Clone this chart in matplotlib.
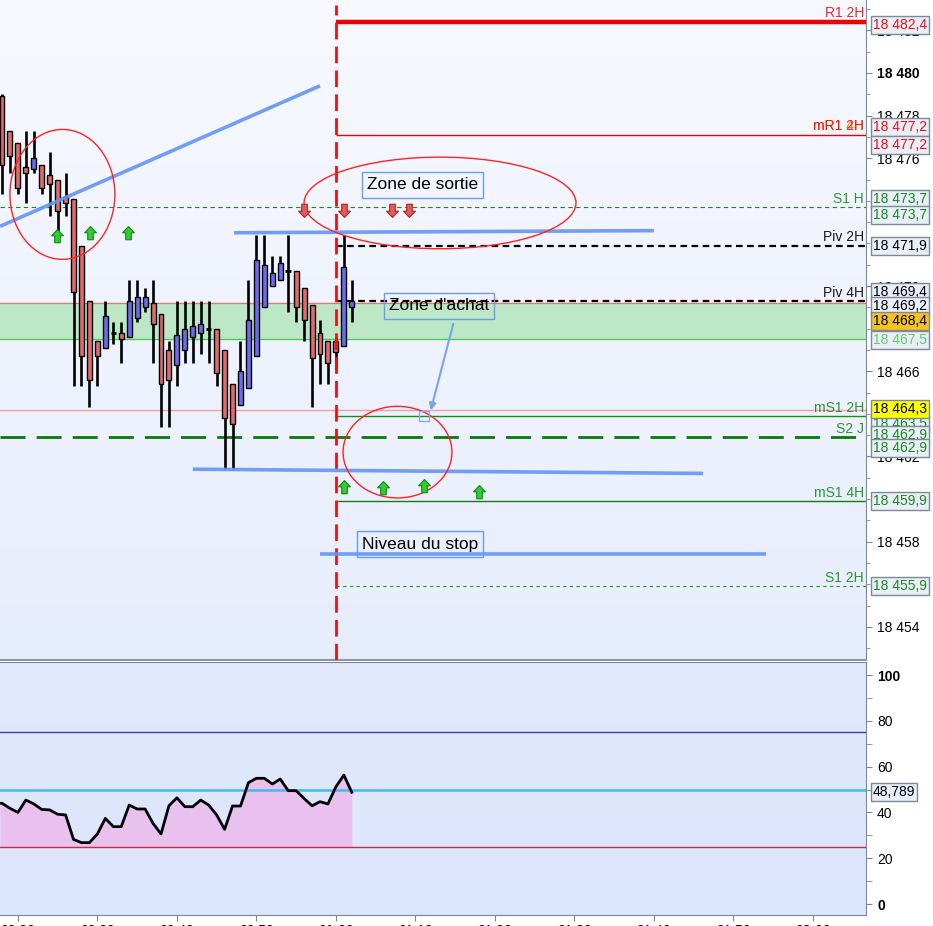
import numpy as np
import matplotlib.pyplot as plt
from matplotlib.patches import Rectangle, Ellipse, FancyArrowPatch
from matplotlib.path import Path
from matplotlib.colors import LinearSegmentedColormap
from matplotlib.transforms import blended_transform_factory

plt.rcParams['font.family'] = ['Liberation Sans', 'DejaVu Sans']

# 1 minute candles, the first one is 00:18
first_minute = 18
opens = [18478.9, 18477.3, 18476.7, 18475.6, 18475.5, 18475.7, 18475.2, 18475.0, 18474.2, 18474.1,
         18471.9, 18469.3, 18467.4, 18467.1, 18467.8, 18467.8, 18467.6, 18468.5, 18469.0, 18469.2,
         18468.7, 18467.0, 18466.3, 18467.0, 18467.6, 18467.8, 18468.0, 18468.0, 18467.0, 18465.4,
         18464.4, 18465.2, 18466.7, 18469.0, 18470.0, 18470.3, 18470.7, 18470.7, 18469.9, 18469.1,
         18467.8, 18467.4, 18467.4, 18467.2, 18469.0]
highs = [18479.0, 18477.3, 18476.7, 18477.3, 18477.3, 18475.7, 18476.3, 18475.0, 18475.3, 18474.1,
         18471.9, 18469.3, 18467.4, 18469.3, 18468.3, 18468.3, 18470.3, 18470.3, 18469.9, 18470.3,
         18468.7, 18467.4, 18469.3, 18469.3, 18469.3, 18469.3, 18469.3, 18468.0, 18467.0, 18465.4,
         18467.4, 18470.3, 18472.4, 18472.4, 18471.4, 18471.4, 18472.4, 18470.7, 18469.9, 18469.1,
         18468.4, 18467.4, 18467.6, 18472.4, 18470.3]
lows = [18474.3, 18475.3, 18474.3, 18473.9, 18475.3, 18474.3, 18473.3, 18472.6, 18473.3, 18465.3,
        18465.3, 18464.3, 18465.3, 18467.1, 18467.3, 18466.4, 18467.6, 18468.3, 18468.8, 18466.4,
        18463.4, 18463.4, 18465.3, 18466.4, 18466.4, 18466.8, 18466.4, 18465.3, 18461.4, 18461.4,
        18464.4, 18465.2, 18466.7, 18469.0, 18470.0, 18470.3, 18468.8, 18468.3, 18467.4, 18464.3,
        18465.4, 18465.4, 18466.1, 18467.2, 18468.3]
closes = [18475.7, 18476.1, 18474.6, 18475.3, 18476.0, 18474.6, 18474.8, 18473.5, 18473.9, 18469.7,
          18466.7, 18465.6, 18466.7, 18468.6, 18467.8, 18467.5, 18469.3, 18469.5, 18469.5, 18468.2,
          18465.4, 18465.6, 18467.7, 18468.0, 18468.1, 18468.2, 18468.0, 18465.9, 18463.8, 18463.5,
          18466.0, 18468.4, 18471.2, 18471.0, 18470.6, 18471.1, 18470.7, 18469.0, 18468.4, 18466.6,
          18466.8, 18466.4, 18466.9, 18470.9, 18469.3]
rsi = [44.0, 41.8, 40.0, 45.4, 43.7, 41.3, 41.1, 39.2, 38.9, 28.2,
       26.8, 26.8, 30.6, 37.4, 33.8, 33.8, 43.2, 41.5, 41.5, 35.2,
       30.6, 42.9, 46.4, 42.5, 42.5, 45.4, 43.2, 38.9, 32.6, 42.8,
       42.8, 53.0, 54.9, 54.9, 52.4, 54.6, 49.5, 49.5, 46.1, 42.9,
       44.7, 43.7, 51.2, 56.3, 48.789]
rsi_last = '48,789'

# pivot levels: name, price, start minute (None = whole width)
level_names = ['R1 2H', 'mR1 2H', 'S1 H', 'Piv 2H', 'Piv 4H', 'mS1 2H', 'S2 J', 'mS1 4H', 'S1 2H']
level_prices = [18482.4, 18477.1, 18473.7, 18471.9, 18469.3, 18463.9, 18462.9, 18459.9, 18455.9]
level_start = [60, 60, None, 60, 60, 60, None, 60, 60]
zone_low, zone_high = 18467.5, 18469.2
pink_level = 18464.2
session_minute = 60

# hand-drawn trend lines (minute, price)
trend_lines = [
    ([17.75, 58.0], [18472.8, 18479.4]),
    ([47.2, 100.0], [18472.5, 18472.6]),
    ([42.0, 106.2], [18461.4, 18461.2]),
    ([58.0, 114.1], [18457.4, 18457.4]),
]
# ellipses: centre minute, centre price, width (min), height (points)
ellipses = [(25.6, 18474.3, 13.2, 6.1), (73.1, 18473.9, 34.2, 4.3), (67.75, 18462.2, 13.7, 4.3)]
buy_t = [24.9, 29.1, 33.9, 61.0, 65.9, 71.1, 78.0]
buy_p = [18472.35, 18472.5, 18472.5, 18460.56, 18460.52, 18460.61, 18460.33]
sell_t = [56.0, 61.0, 67.05, 69.2]
sell_p = [18473.57, 18473.57, 18473.57, 18473.57]

# price tags on the right axis: text, text colour, face colour
tag_texts = ['18 482,4', '18 477,2', '18 477,2', '18 473,7', '18 473,7', '18 471,9', '18 469,4',
             '18 469,2', '18 468,4', '18 467,5', '18 463,5', '18 464,3', '18 462,9', '18 462,9',
             '18 459,9', '18 455,9']
tag_colors = ['#ee1111', '#ee1111', '#ee1111', '#1a8a1a', '#1a8a1a', 'black', 'black',
              'black', 'black', '#66cc66', '#1a8a1a', 'black', '#1a8a1a', '#1a8a1a',
              '#1a8a1a', '#1a8a1a']
tag_faces = ['#e9eef9'] * 8 + ['#f6c21c', '#e9eef9', '#e9eef9', '#ffff00'] + ['#e9eef9'] * 4
tag_pix = [25, 127, 145, 199, 215, 246, 292, 306, 321, 340, 424, 409, 435, 448, 501, 586]

# price axis labels left visible between the tags
price_ticks = [18454, 18458, 18462, 18466, 18470, 18476, 18478, 18480, 18482]

x_ticks = list(range(20, 121, 10))
x_labels = ['00:20', '00:30', '00:40', '00:50', '01:00', '01:10', '01:20', '01:30', '01:40', '01:50', '02:00']


# reference pixel -> chart units (layout helpers)
def py(pix):
    return 18480 - (pix - 73) / 21.3


def mx(pix):
    return first_minute + (pix - 2) / 7.95


W, H = 933, 926
fig = plt.figure(figsize=(W / 100, H / 100), dpi=100, facecolor='white')
ax = fig.add_axes([0, 1 - 660 / H, 866 / W, 660 / H])
ax2 = fig.add_axes([0, 1 - 915 / H, 866 / W, 253 / H])

xlim = (mx(0), mx(866))
ylim = (py(660), py(0))
rlim = (-4.8, 105.7)

ax.imshow(np.linspace(0, 1, 256).reshape(-1, 1),
          cmap=LinearSegmentedColormap.from_list('bg', ['#f8f9ff', '#e6edfc']),
          extent=[xlim[0], xlim[1], ylim[0], ylim[1]], aspect='auto', zorder=-10)
ax2.imshow(np.linspace(0, 1, 256).reshape(-1, 1),
           cmap=LinearSegmentedColormap.from_list('bg2', ['#e2e9fc', '#dbe5fd']),
           extent=[xlim[0], xlim[1], rlim[0], rlim[1]], aspect='auto', zorder=-10)

# zone and horizontal levels
ax.axhspan(zone_low, zone_high, color='#bde8c8', zorder=0)
ax.axhline(zone_high, color='#f07070', lw=0.9, zorder=1)
ax.axhline(zone_low, color='#44cc44', lw=0.9, zorder=1)
ax.axhline(pink_level, color='#f0a0a0', lw=1, zorder=1)

styles = {
    'R1 2H': dict(color='#ee0000', lw=3.2),
    'mR1 2H': dict(color='#ee0000', lw=1),
    'S1 H': dict(color='#1a8a1a', lw=0.8, dashes=(4, 3)),
    'Piv 2H': dict(color='black', lw=1.6, dashes=(3, 2)),
    'Piv 4H': dict(color='black', lw=1.6, dashes=(3, 2)),
    'mS1 2H': dict(color='#1a8a1a', lw=1),
    'S2 J': dict(color='#0a780a', lw=2, dashes=(9, 4)),
    'mS1 4H': dict(color='#1a7a1a', lw=1),
    'S1 2H': dict(color='#1a9a1a', lw=0.8, dashes=(3, 3)),
}
label_colors = {'R1 2H': '#ee1111', 'mR1 2H': '#ee1111', 'S1 H': '#1a8a1a', 'Piv 2H': 'black',
                'Piv 4H': 'black', 'mS1 2H': '#1a8a1a', 'S2 J': '#1a8a1a', 'mS1 4H': '#1a8a1a',
                'S1 2H': '#1a8a1a'}
trans = blended_transform_factory(ax.transAxes, ax.transData)
for name, price, start in zip(level_names, level_prices, level_start):
    x0 = xlim[0] if start is None else start
    ax.plot([x0, xlim[1]], [price, price], zorder=2, solid_capstyle='butt', **styles[name])
    if name == 'mR1 2H':
        ax.annotate('mR1 4H', xy=(864 / 866, price), xycoords=trans, xytext=(0, 1),
                    textcoords='offset points', ha='right', va='bottom',
                    color='#ff7700', fontsize=10, zorder=6)
    ax.annotate(name, xy=(864 / 866, price), xycoords=trans, xytext=(0, 1),
                textcoords='offset points', ha='right', va='bottom',
                color=label_colors[name], fontsize=10, zorder=6, alpha=0.9)

# session separator
ax.plot([session_minute, session_minute], [ylim[0], py(5)], color='#ee1111', lw=2,
        dashes=(6, 2.6), zorder=5)

# candles
for i, (o, h, l, c) in enumerate(zip(opens, highs, lows, closes)):
    t = first_minute + i
    ax.vlines(t, l, h, color='black', lw=1.9, zorder=3)
    if o == c:
        ax.hlines(o, t - 0.35, t + 0.35, color='black', lw=2, zorder=4)
    else:
        face = '#6b6bee' if c > o else '#e26a6a'
        ax.add_patch(Rectangle((t - 0.31, min(o, c)), 0.62, abs(c - o), fc=face, ec='black',
                               lw=1, zorder=4))

# drawings
for xs, ys in trend_lines:
    ax.plot(xs, ys, color='#6394f5', lw=2.6, alpha=0.9, zorder=6, solid_capstyle='butt')
for cx, cy, w, h in ellipses:
    ax.add_patch(Ellipse((cx, cy), w, h, fill=False, ec='#ff2222', lw=1, zorder=6))

up = Path([(0, 1), (0.85, 0.1), (0.4, 0.1), (0.4, -0.9), (-0.4, -0.9), (-0.4, 0.1),
           (-0.85, 0.1), (0, 1)], closed=True)
down = Path([(0, -1), (0.85, -0.1), (0.4, -0.1), (0.4, 0.9), (-0.4, 0.9), (-0.4, -0.1),
             (-0.85, -0.1), (0, -1)], closed=True)
ax.plot(buy_t, buy_p, ls='none', marker=up, ms=10, mfc='#33cc33', mec='#118811', mew=0.8, zorder=7)
ax.plot(sell_t, sell_p, ls='none', marker=down, ms=10, mfc='#e65a5a', mec='#aa2222', mew=0.8, zorder=7)

box = dict(boxstyle='square,pad=0.3', fc='none', ec='#6b9cf5', lw=1)
ax.text(mx(367), py(185), 'Zone de sortie', fontsize=12.5, va='center', ha='left', bbox=box, zorder=8)
ax.text(mx(389), py(306), "Zone d'achat", fontsize=12.5, va='center', ha='left', bbox=box, zorder=8)
ax.text(mx(362), py(544), 'Niveau du stop', fontsize=12.5, va='center', ha='left', bbox=box, zorder=8)
ax.add_patch(FancyArrowPatch((mx(454), py(321)), (mx(430), py(413)), arrowstyle='-|>',
                             mutation_scale=10, color='#7aa2f0', lw=1.5, zorder=8))
ax.add_patch(Rectangle((mx(419), py(421)), 10 / 7.95, 10 / 21.3, fc='none', ec='#8aaaf0',
                       lw=1, zorder=8))

ax.set_xlim(*xlim)
ax.set_ylim(*ylim)
ax.set_xticks([])
ax.yaxis.tick_right()
ax.set_yticks(price_ticks)
ax.set_yticks(range(18453, 18484), minor=True)
ax.set_yticklabels(['{} {:03d}'.format(v // 1000, v % 1000) for v in price_ticks], fontsize=10)
for lab, v in zip(ax.get_yticklabels(), price_ticks):
    if v == 18480:
        lab.set_fontweight('bold')
ax.tick_params(axis='y', which='both', direction='out', length=4, color='#7a8a99', pad=4)
ax.tick_params(axis='y', which='minor', length=3)
for s in ['left', 'top']:
    ax.spines[s].set_visible(False)
ax.spines['right'].set_color('#7a8a99')
ax.spines['bottom'].set_color('#8a99a6')
ax.spines['bottom'].set_linewidth(1.5)

# price tags
for txt, col, fc, pix in zip(tag_texts, tag_colors, tag_faces, tag_pix):
    ax.text(873 / 866, py(pix), txt, transform=trans, color=col, fontsize=10, ha='left',
            va='center', zorder=10, clip_on=False,
            bbox=dict(boxstyle='square,pad=0.15', fc=fc, ec='#7a8a99', lw=1))

# RSI panel
times = [first_minute + i for i in range(len(rsi))]
ax2.fill_between([xlim[0]] + times, [rsi[0]] + rsi, 25, color='#e8c1ee', lw=0, zorder=1)
ax2.axhline(75, color='#3a3ab8', lw=1, zorder=2)
ax2.axhline(25, color='#e0203a', lw=1, zorder=2)
ax2.axhline(50, color='#3cbcf5', lw=1.8, zorder=2)
ax2.plot([xlim[0]] + times, [rsi[0]] + rsi, color='black', lw=2, zorder=3)
ax2.set_xlim(*xlim)
ax2.set_ylim(*rlim)
ax2.yaxis.tick_right()
ax2.set_yticks([0, 20, 40, 60, 80, 100])
ax2.set_yticks([10, 30, 50, 70, 90], minor=True)
ax2.set_yticklabels(['0', '20', '40', '60', '80', '100'], fontsize=10)
for lab in ax2.get_yticklabels():
    if lab.get_text() in ('0', '100'):
        lab.set_fontweight('bold')
ax2.tick_params(axis='y', which='both', direction='out', length=4, color='#7a8a99', pad=4)
ax2.set_xticks(x_ticks)
ax2.set_xticklabels(x_labels, fontsize=10)
for lab in ax2.get_xticklabels():
    if lab.get_text() in ('01:00', '02:00'):
        lab.set_fontweight('bold')
ax2.tick_params(axis='x', direction='out', length=4, color='#7a8a99', pad=2.5)
ax2.spines['left'].set_visible(False)
for s in ['right', 'bottom', 'top']:
    ax2.spines[s].set_color('#7a8a99')
trans2 = blended_transform_factory(ax2.transAxes, ax2.transData)
ax2.text(873 / 866, rsi[-1], rsi_last, transform=trans2, fontsize=10, ha='left', va='center',
         clip_on=False, zorder=10,
         bbox=dict(boxstyle='square,pad=0.15', fc='#e9eef9', ec='#7a8a99', lw=1))

fig.savefig('out.png', dpi=100, facecolor='white')
